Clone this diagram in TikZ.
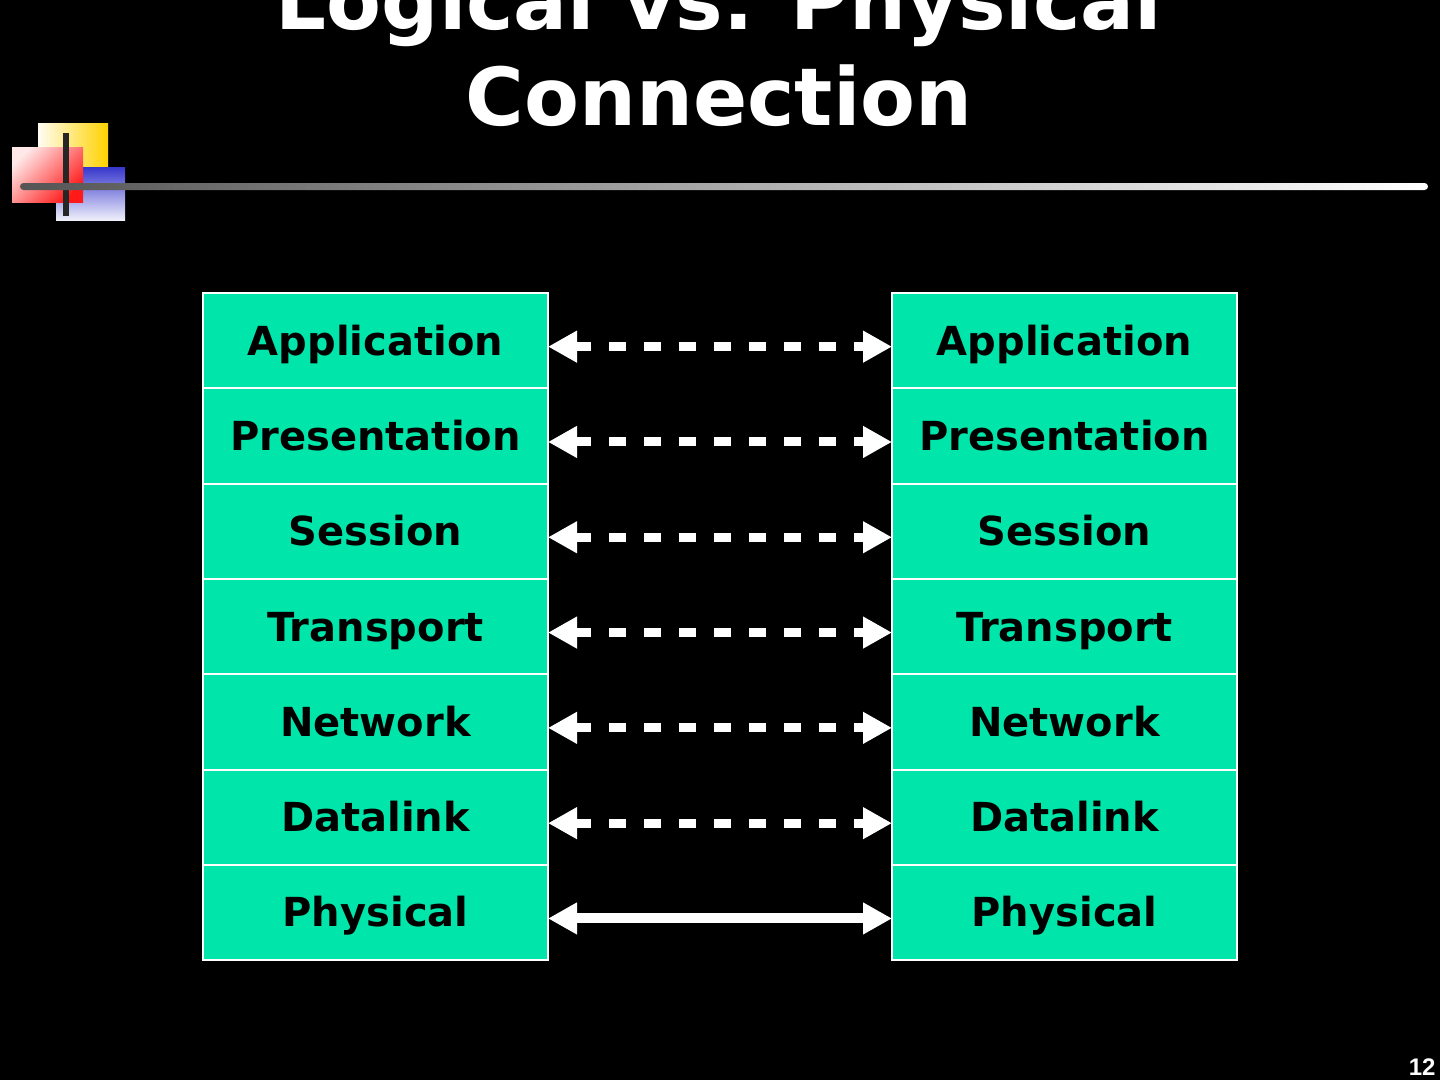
\documentclass[tikz,border=0pt]{standalone}
\usepackage{fontspec}
\setmainfont{DejaVu Sans}
\newfontfamily\numfont{Liberation Sans}
\usetikzlibrary{arrows.meta, positioning}
\usepackage{xcolor}
\definecolor{layergreen}{RGB}{0,230,170}
\definecolor{logoyellow}{RGB}{255,210,0}
\definecolor{logored}{RGB}{255,25,25}
\definecolor{logoblue}{RGB}{55,55,205}
\definecolor{bargray}{RGB}{85,85,85}

\tikzset{
  layer/.style={draw=white, line width=2pt, fill=layergreen, minimum width=345pt,
    minimum height=95.3pt, inner sep=0pt, outer sep=0pt, text height=29pt, text depth=0pt,
    font=\fontsize{40}{48}\selectfont\bfseries},
  peer/.style={white, line width=9pt, dash pattern=on 17pt off 18pt, dash phase=1pt,
    {Triangle[length=29pt,width=30pt]}-{Triangle[length=29pt,width=30pt]}},
  wire/.style={white, line width=10pt,
    {Triangle[length=29pt,width=30pt]}-{Triangle[length=29pt,width=30pt]}}
}

\begin{document}
\begin{tikzpicture}[x=1pt,y=-1pt]
		\fill[black] (0,0) rectangle (1440,1080);
		\useasboundingbox (0,0) rectangle (1440,1080);
		\clip (0,0) rectangle (1440,1080);

		% logo
		\shade[left color=white!95!logoyellow, right color=logoyellow] (38,123) rectangle (108,167);
		\shade[top color=logoblue, bottom color=white!92!logoblue] (56,167) rectangle (125,220);
		\shade[left color=white!90!logored, right color=logored, shading angle=45] (12,147) rectangle (83,202);
		\draw[line width=6pt, black!85] (66,133) -- (66,216);
		\shade[left color=bargray, right color=white, rounded corners=3.5pt] (20,183) rectangle (1428,190);

		% title
		\node[anchor=base, align=center, text=white, font=\fontsize{80}{96}\selectfont\bfseries] (title) at (719,125)
			{Logical vs. Physical\\Connection};

		% layers
		\foreach \name [count=\i] in {Application,Presentation,Session,Transport,Network,Datalink,Physical}{
			\node[layer] (l\i) at (375.5,{340.65+95.3*(\i-1)}) {\name};
			\node[layer, right=344pt of l\i] (r\i) {\name};
		}

		\foreach \i in {1,...,6}
			\draw[peer] ([yshift=-6pt]l\i.east) -- ([yshift=-6pt]r\i.west);
		\draw[wire] ([yshift=-6pt]l7.east) -- ([yshift=-6pt]r7.west);

		% page number
		\node[anchor=base east, text=white, font=\fontsize{24}{28}\numfont\bfseries] (page) at (1439,1075) {12};
\end{tikzpicture}
\end{document}
